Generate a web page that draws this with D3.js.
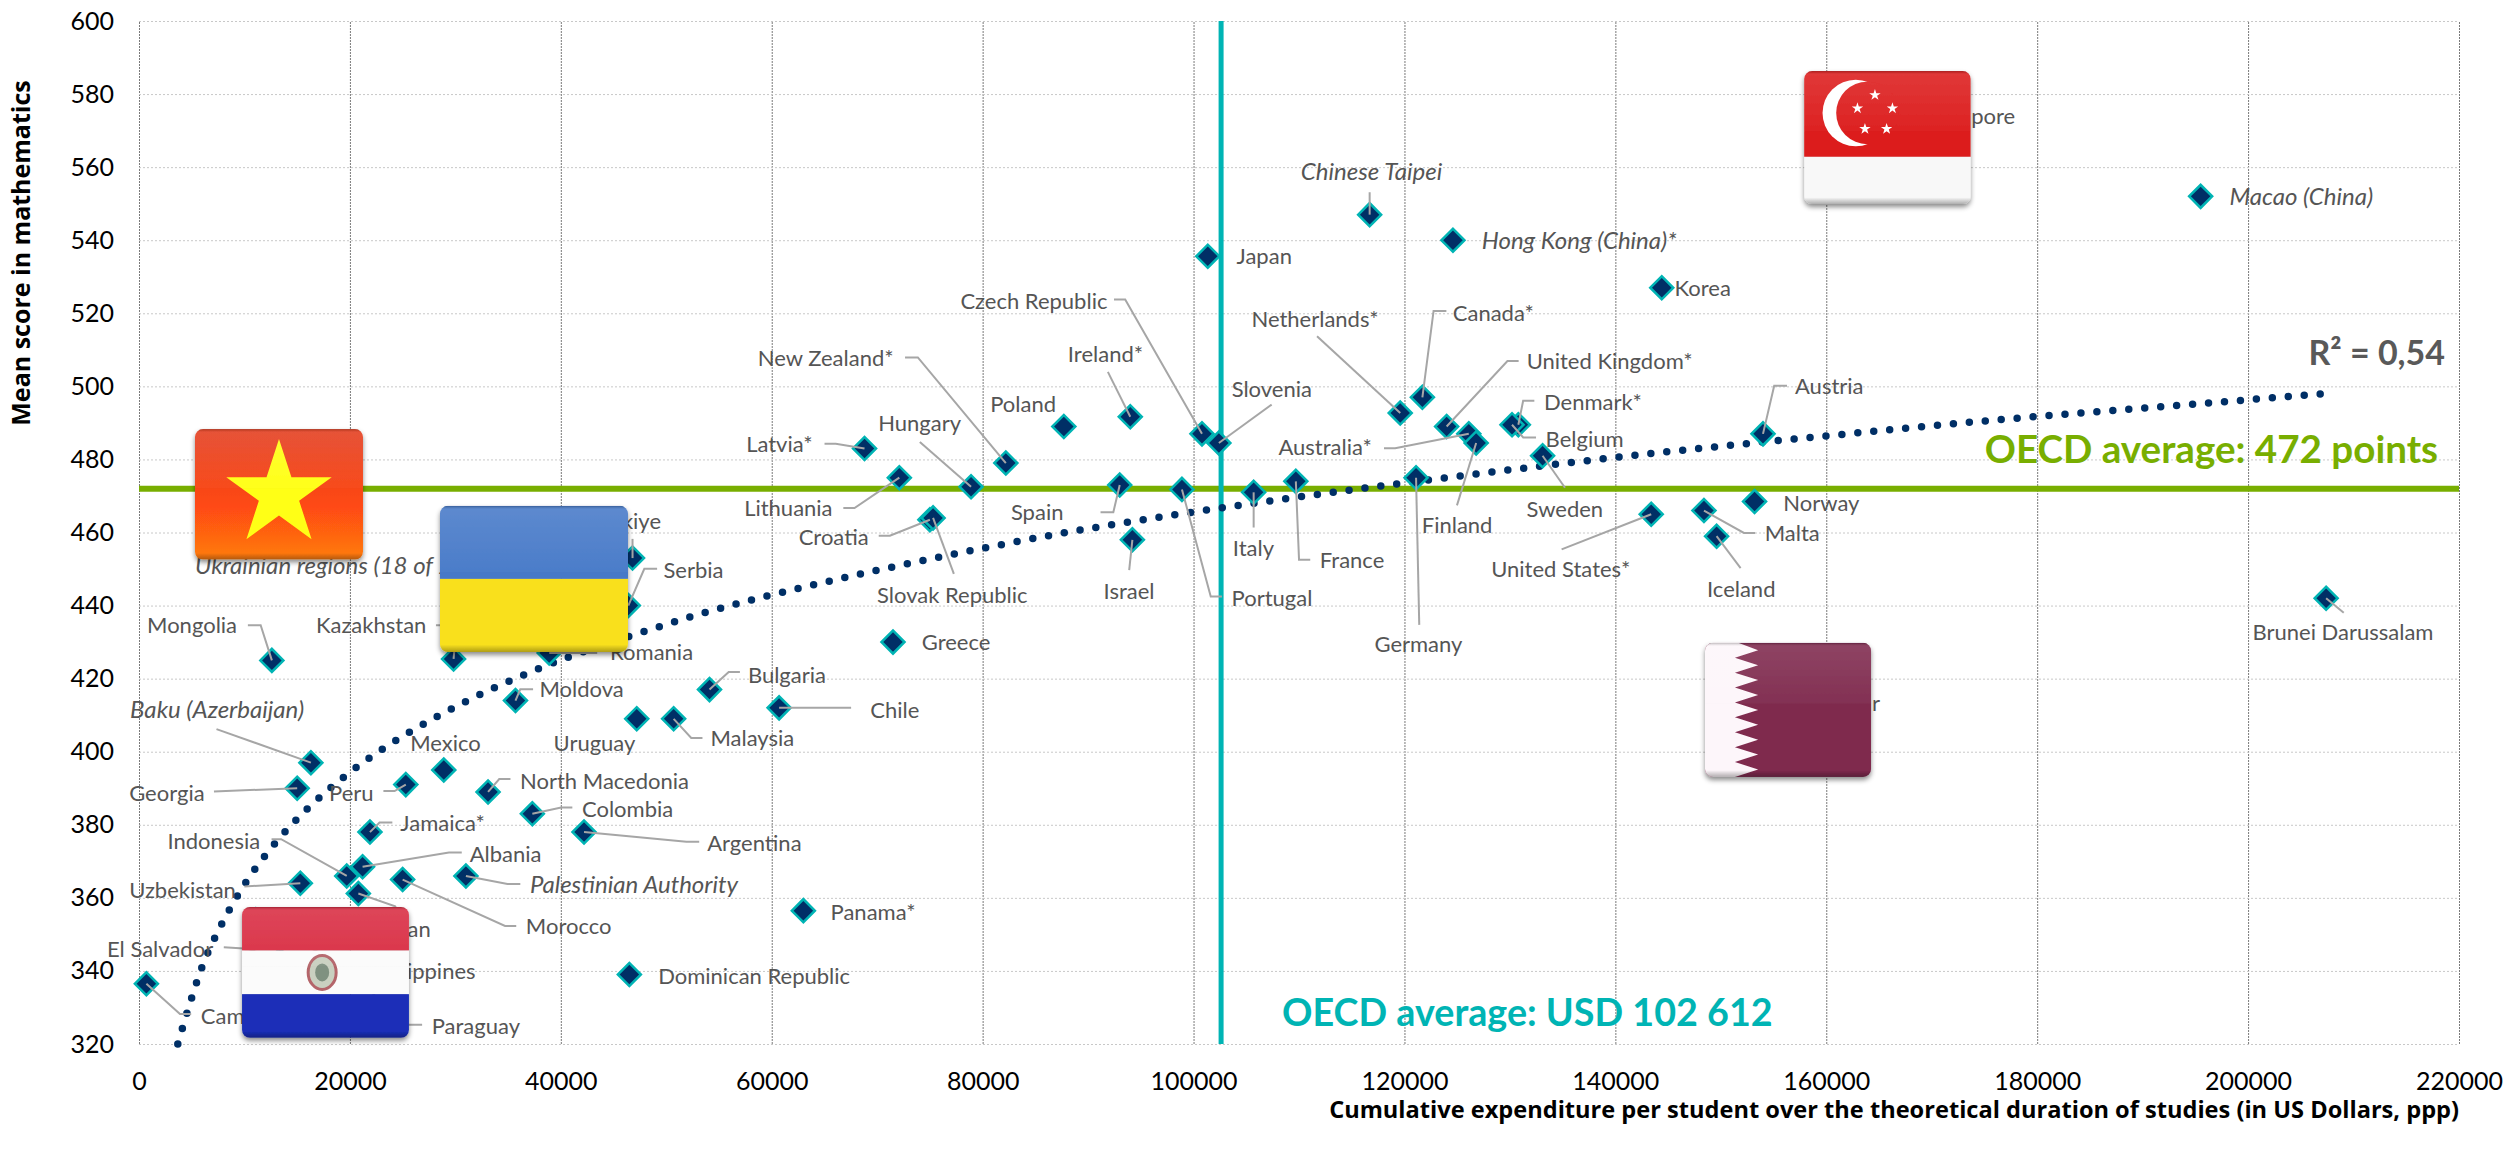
<!DOCTYPE html>
<html>
<head>
<meta charset="utf-8">
<script src="https://cdn.jsdelivr.net/npm/d3@7"></script>
<style>
  body { margin: 0; background: #fff; }
  text { font-family: Lato, sans-serif; }
</style>
</head>
<body>
<div id="chart"></div>
<script>
const countries = ["Macao (China)", "Singapore", "Chinese Taipei", "Hong Kong (China)*", "Japan", "Korea", "Canada*", "Netherlands*", "Ireland*", "Poland", "United Kingdom*", "Denmark*", "Belgium", "Australia*", "Finland", "Czech Republic", "Slovenia", "Latvia*", "New Zealand*", "Sweden", "Austria", "Lithuania", "Hungary", "Spain", "Portugal", "Italy", "France", "Germany", "Croatia", "Slovak Republic", "Israel", "United States*", "Malta", "Iceland", "Norway", "Brunei Darussalam", "Greece", "Qatar", "Viet Nam", "Ukrainian regions (18 of 27)", "Türkiye", "Serbia", "Kazakhstan", "Romania", "Mongolia", "Moldova", "Bulgaria", "Chile", "Uruguay", "Malaysia", "Baku (Azerbaijan)", "Georgia", "Mexico", "Peru", "North Macedonia", "Colombia", "Jamaica*", "Argentina", "Albania", "Indonesia", "Morocco", "Palestinian Authority", "Uzbekistan", "Jordan", "Panama*", "Philippines", "El Salvador", "Dominican Republic", "Paraguay", "Cambodia"];
const expenditure = [195500, 165800, 116700, 124600, 101350, 144400, 121700, 119600, 94000, 87700, 124000, 130800, 130200, 126100, 126800, 100800, 102400, 68800, 82200, 133100, 154000, 72100, 78900, 93000, 98900, 105700, 109700, 121100, 75000, 75300, 94200, 143400, 148400, 149600, 153200, 207400, 71500, 156700, 11830, 35350, 46800, 46400, 29830, 38900, 12600, 35700, 54100, 60700, 47200, 50700, 16300, 15000, 28900, 25300, 33100, 37300, 21900, 42200, 21200, 19700, 25000, 31000, 15300, 20800, 63000, 11080, 13350, 46500, 20930, 700];
const mathScore = [552, 574, 547, 540, 535.6, 527, 497, 492.7, 491.7, 489, 489, 489.5, 489.5, 487, 484.5, 487, 484.5, 483, 479, 481, 487, 475, 472.5, 473, 471.8, 471, 474, 475, 463.5, 464, 458, 465, 466, 459, 468.5, 442, 430, 413.3, 467.7, 439.2, 453, 440, 425.4, 427, 425, 414, 417, 412, 409, 409, 397, 390, 395, 391, 389, 383, 378, 378, 368.5, 366, 365, 366, 364, 361.2, 356.5, 354, 343, 339, 338, 336.5];
const italicNames = ["Macao (China)", "Chinese Taipei", "Hong Kong (China)*", "Ukrainian regions (18 of 27)", "Baku (Azerbaijan)", "Palestinian Authority"];

const xTicks = [0, 20000, 40000, 60000, 80000, 100000, 120000, 140000, 160000, 180000, 200000, 220000];
const yTicks = [320, 340, 360, 380, 400, 420, 440, 460, 480, 500, 520, 540, 560, 580, 600];

// trend line
const trendX = [3680, 4500, 5940, 7840, 10150, 12980, 16110, 19610, 23360, 28700, 32800, 37030, 41300, 47160, 53000, 59000, 63400, 75470, 87550, 99730, 111960, 122540, 134770, 143990, 160950, 177700, 193000, 207600];
const trendY = [320, 328, 340.8, 352.8, 364.3, 375.2, 384.8, 393.5, 401.2, 410.3, 416.3, 421.7, 426.5, 432.2, 437.5, 442.2, 445.3, 453, 459.8, 465.5, 470.5, 474.5, 478.8, 481.8, 486.7, 491.2, 494.7, 498.1];

const oecdScore = 472;
const oecdExpenditure = 102612;

const width = 2509, height = 1172;
const margin = { top: 21, right: 50, bottom: 128, left: 139 };
const plotW = width - margin.left - margin.right;
const plotH = height - margin.top - margin.bottom;

const xScale = d3.scaleLinear().domain([0, 220000]).range([margin.left, margin.left + plotW]);
const yScale = d3.scaleLinear().domain([320, 600]).range([margin.top + plotH, margin.top]);

const svg = d3.select("#chart").append("svg")
    .attr("width", width)
    .attr("height", height)
    .style("display", "block");

// gridlines come from the axes themselves
const xAxis = svg.append("g")
    .attr("transform", `translate(0, ${margin.top + plotH})`)
    .call(d3.axisBottom(xScale).tickValues(xTicks).tickFormat(d3.format("d")).tickSize(-plotH).tickPadding(28));
xAxis.select(".domain").remove();
xAxis.selectAll("line").attr("stroke", "#7a7a7a").attr("stroke-dasharray", "2 1");
xAxis.selectAll("text").attr("font-size", 25).attr("fill", "#000");

const yAxis = svg.append("g")
    .attr("transform", `translate(${margin.left}, 0)`)
    .call(d3.axisLeft(yScale).tickValues(yTicks).tickFormat(d3.format("d")).tickSize(-plotW).tickPadding(25));
yAxis.select(".domain").remove();
yAxis.selectAll("line").attr("stroke", "#c8c8c8").attr("stroke-dasharray", "2 2");
yAxis.selectAll("text").attr("font-size", 25).attr("fill", "#000");

svg.append("text")
    .attr("transform", `translate(30, ${margin.top + 232}) rotate(-90)`)
    .attr("text-anchor", "middle")
    .attr("font-size", 25)
    .attr("font-weight", 700)
    .style("font-family", "'Open Sans', sans-serif")
    .text("Mean score in mathematics");

svg.append("text")
    .attr("x", margin.left + plotW)
    .attr("y", 1118)
    .attr("text-anchor", "end")
    .attr("font-size", 23.6)
    .attr("font-weight", 700)
    .style("font-family", "'Open Sans', sans-serif")
    .text("Cumulative expenditure per student over the theoretical duration of studies (in US Dollars, ppp)");

// OECD reference lines
svg.append("line")
    .attr("x1", xScale(0)).attr("x2", xScale(220000))
    .attr("y1", yScale(oecdScore)).attr("y2", yScale(oecdScore))
    .attr("stroke", "#78ae00").attr("stroke-width", 6);

svg.append("line")
    .attr("x1", xScale(oecdExpenditure)).attr("x2", xScale(oecdExpenditure))
    .attr("y1", yScale(600)).attr("y2", yScale(320))
    .attr("stroke", "#00b4b4").attr("stroke-width", 5);

// dotted trend
const trendLine = d3.line().x(d => xScale(d[0])).y(d => yScale(d[1])).curve(d3.curveMonotoneX);
svg.append("path")
    .attr("d", trendLine(d3.zip(trendX, trendY)))
    .attr("fill", "none")
    .attr("stroke", "#002f66")
    .attr("stroke-width", 7.5)
    .attr("stroke-linecap", "round")
    .attr("stroke-dasharray", "0 16");

// label placement relative to the point: dx, dy, leader bends (in units of the 1568 wide view)
const unit = 1.6;
const labelLayout = {
    "Macao (China)": [18, 0], "Singapore": [20, 0], "Chinese Taipei": [-43, -27, [[0, -14]]],
    "Hong Kong (China)*": [18, 0], "Japan": [18, 0], "Korea": [8, 0],
    "Canada*": [19, -53, [[7, -54], [15, -54]]], "Netherlands*": [-93, -59, [[-52, -48]]],
    "Ireland*": [-39, -39, [[-14, -28]]], "Poland": [-46, -14],
    "United Kingdom*": [50, -41, [[38, -41], [45, -41]]], "Denmark*": [16, -14, [[3, -15], [10, -15]]],
    "Belgium": [21, 9, [[7, 8], [15, 8]]], "Australia*": [-119, 8, [[-46, 9], [-53, 9]]],
    "Finland": [-34, 51, [[-12, 39]]], "Czech Republic": [-151, -83, [[-48, -84], [-55, -84]]],
    "Slovenia": [8, -34, [[33, -24]]], "Latvia*": [-74, -3, [[-18, -3], [-25, -3]]],
    "New Zealand*": [-155, -66, [[-55, -66], [-63, -66]]], "Sweden": [-10, 33, [[14, 20]]],
    "Austria": [20, -30, [[7, -30], [15, -30]]], "Lithuania": [-97, 19, [[-28, 19], [-35, 19]]],
    "Hungary": [-58, -40, [[-32, -28]]], "Spain": [-68, 17, [[-4, 17], [-12, 17]]],
    "Portugal": [31, 68, [[18, 67], [25, 67]]], "Italy": [-13, 35, [[0, 22]]],
    "France": [15, 49, [[2, 49], [9, 49]]], "Germany": [-26, 104, [[2, 92]]],
    "Croatia": [-82, 11, [[-25, 10], [-32, 10]]], "Slovak Republic": [-35, 48, [[13, 35]]],
    "Israel": [-18, 32, [[-2, 19]]], "United States*": [-100, 34, [[-56, 22]]],
    "Malta": [38, 14, [[25, 14], [32, 14]]], "Iceland": [-6, 33, [[15, 20]]], "Norway": [18, 1],
    "Brunei Darussalam": [-46, 21, [[11, 9]]], "Greece": [18, 0], "Qatar": [21, 0], "Viet Nam": [-20, 0],
    "Ukrainian regions (18 of 27)": [-198, -27], "Türkiye": [-26, -23, [[0, -12]]],
    "Serbia": [22, -22, [[10, -23], [18, -23]]], "Kazakhstan": [-86, -21, [[2, -21], [-11, -21]]],
    "Romania": [38, -1, [[30, 0]]], "Mongolia": [-78, -22, [[-7, -22], [-15, -22]]],
    "Moldova": [15, -7, [[3, -7], [11, -7]]], "Bulgaria": [24, -9, [[12, -11], [19, -11]]],
    "Chile": [57, 1, [[45, 0]]], "Uruguay": [-52, 15], "Malaysia": [23, 12, [[11, 12], [18, 12]]],
    "Baku (Azerbaijan)": [-113, -33, [[-59, -21]]], "Georgia": [-105, 3, [[-52, 2]]],
    "Mexico": [-21, -17], "Peru": [-48, 5, [[-7, 4], [-14, 4]]],
    "North Macedonia": [20, -7, [[7, -8], [14, -8]]], "Colombia": [31, -3, [[18, -4], [25, -4]]],
    "Jamaica*": [19, -6, [[6, -6], [14, -6]]], "Argentina": [77, 7, [[64, 6], [72, 6]]],
    "Albania": [67, -8, [[54, -9], [62, -9]]], "Indonesia": [-112, -22, [[-41, -23], [-47, -23]]],
    "Morocco": [77, 29, [[64, 29], [71, 29]]], "Palestinian Authority": [40, 5, [[26, 5], [34, 5]]],
    "Uzbekistan": [-107, 4, [[-35, 2]]], "Jordan": [5, 22, [[23, 8], [28, 18]]],
    "Panama*": [17, 1], "Philippines": [72, 32, [[60, 31]]], "El Salvador": [-108, -7, [[-20, -7], [-35, -8]]],
    "Dominican Republic": [18, 1], "Paraguay": [45, 30, [[25, 29], [39, 29]]], "Cambodia": [34, 20, [[21, 19], [28, 19]]]
};

const points = countries.map((name, i) => ({ name, x: xScale(expenditure[i]), y: yScale(mathScore[i]) }));

svg.append("g").selectAll("path")
    .data(points)
    .enter().append("path")
    .attr("d", d3.symbol(d3.symbolSquare, 265))
    .attr("transform", d => `translate(${d.x}, ${d.y}) rotate(45)`)
    .attr("fill", "#002f66")
    .attr("stroke", "#00b4b4")
    .attr("stroke-width", 2.5);

// leader lines sit on top of the markers
svg.append("g").selectAll("polyline")
    .data(points.filter(d => labelLayout[d.name][2]))
    .enter().append("polyline")
    .attr("points", d => [[0, 0]].concat(labelLayout[d.name][2])
        .map(p => [d.x + p[0] * unit, d.y + p[1] * unit].join(",")).join(" "))
    .attr("fill", "none")
    .attr("stroke", "#a6a6a6")
    .attr("stroke-width", 2);

svg.append("g").selectAll("text")
    .data(points)
    .enter().append("text")
    .attr("x", d => d.x + labelLayout[d.name][0] * unit)
    .attr("y", d => d.y + labelLayout[d.name][1] * unit + 2.5)
    .attr("dominant-baseline", "middle")
    .attr("font-size", d => italicNames.includes(d.name) ? 24 : 22)
    .attr("font-style", d => italicNames.includes(d.name) ? "italic" : "normal")
    .attr("fill", "#555")
    .text(d => d.name);

svg.append("text")
    .attr("x", 2445).attr("y", yScale(498) - 29)
    .attr("text-anchor", "end")
    .attr("font-size", 34)
    .attr("font-weight", 700)
    .attr("fill", "#595959")
    .text("R² = 0,54");

svg.append("text")
    .attr("x", 2438).attr("y", yScale(oecdScore) - 26)
    .attr("text-anchor", "end")
    .attr("font-size", 38.6)
    .attr("font-weight", 700)
    .attr("fill", "#78ae00")
    .text("OECD average: 472 points");

svg.append("text")
    .attr("x", 1282).attr("y", yScale(320) - 18)
    .attr("font-size", 37.7)
    .attr("font-weight", 700)
    .attr("fill", "#00b4b4")
    .text("OECD average: USD 102 612");

// glossy flag icons, placed on the data scales
const flagNames = ["Viet Nam", "Ukraine", "Paraguay", "Qatar", "Singapore"];
const flagX0 = [5310, 28540, 9770, 148500, 157900];
const flagX1 = [21240, 46370, 25600, 164250, 173700];
const flagYTop = [488.3, 467.3, 357.5, 429.8, 586.3];
const flagYBottom = [452.6, 427.3, 321.7, 393.1, 549.9];

const defs = svg.append("defs");
const shadow = defs.append("filter").attr("id", "flag-shadow").attr("x", "-10%").attr("y", "-10%").attr("width", "120%").attr("height", "125%");
shadow.append("feDropShadow").attr("dx", 0).attr("dy", 3).attr("stdDeviation", 2.5).attr("flood-color", "#000").attr("flood-opacity", 0.45);

function addGradient(id, stops) {
    const g = defs.append("linearGradient").attr("id", id).attr("x1", 0).attr("x2", 0).attr("y1", 0).attr("y2", 1);
    stops.forEach(s => g.append("stop").attr("offset", s[0]).attr("stop-color", s[1]).attr("stop-opacity", s[2] === undefined ? 1 : s[2]));
}
addGradient("vn-red", [[0, "#e23a1c"], [0.6, "#ff4a12"], [1, "#ff7d10"]]);
addGradient("edge-shade", [[0, "#000", 0.25], [0.025, "#fff", 0.12], [0.45, "#fff", 0.03], [0.46, "#000", 0.0], [0.95, "#000", 0], [1, "#000", 0.3]]);

function starPoints(cx, cy, r) {
    const pts = [];
    for (let i = 0; i < 10; i++) {
        const a = -Math.PI / 2 + i * Math.PI / 5;
        const rad = i % 2 ? r * 0.382 : r;
        pts.push([cx + rad * Math.cos(a), cy + rad * Math.sin(a)].join(","));
    }
    return pts.join(" ");
}

const flagPainters = {
    "Viet Nam": (g, w, h) => {
        g.append("rect").attr("width", w).attr("height", h).attr("fill", "url(#vn-red)");
        g.append("polygon").attr("points", starPoints(w * 0.5, h * 0.5, w * 0.33)).attr("fill", "#ffff14");
    },
    "Ukraine": (g, w, h) => {
        g.append("rect").attr("width", w).attr("height", h / 2).attr("fill", "#4679c8");
        g.append("rect").attr("y", h / 2).attr("width", w).attr("height", h / 2).attr("fill", "#f9e01e");
    },
    "Paraguay": (g, w, h) => {
        g.append("rect").attr("width", w).attr("height", h / 3).attr("fill", "#d92c42");
        g.append("rect").attr("y", h / 3).attr("width", w).attr("height", h / 3).attr("fill", "#fbfbfb");
        g.append("rect").attr("y", h * 2 / 3).attr("width", w).attr("height", h / 3).attr("fill", "#1a2fb8");
        g.append("ellipse").attr("cx", w * 0.48).attr("cy", h * 0.5).attr("rx", 14).attr("ry", 17)
            .attr("fill", "#c9d0c0").attr("stroke", "#b4656a").attr("stroke-width", 3);
        g.append("ellipse").attr("cx", w * 0.48).attr("cy", h * 0.5).attr("rx", 7).attr("ry", 9)
            .attr("fill", "#7f9180");
    },
    "Qatar": (g, w, h) => {
        g.append("rect").attr("width", w).attr("height", h).attr("fill", "#7f2a4e");
        const teeth = 9;
        const zig = [[0, 0], [w * 0.2, 0]];
        for (let i = 0; i < teeth; i++) {
            zig.push([w * 0.32, (i + 0.5) * h / teeth]);
            zig.push([w * 0.18, (i + 1) * h / teeth]);
        }
        zig.push([0, h]);
        g.append("polygon").attr("points", zig.map(p => p.join(",")).join(" ")).attr("fill", "#fdf6fa");
    },
    "Singapore": (g, w, h) => {
        g.append("rect").attr("width", w).attr("height", h * 0.645).attr("fill", "#dc1c1c");
        g.append("rect").attr("y", h * 0.645).attr("width", w).attr("height", h * 0.355).attr("fill", "#f8f8f8");
        g.append("circle").attr("cx", w * 0.31).attr("cy", h * 0.315).attr("r", h * 0.25).attr("fill", "#fff");
        g.append("circle").attr("cx", w * 0.38).attr("cy", h * 0.315).attr("r", h * 0.235).attr("fill", "#dc1c1c");
        [[0.425, 0.18], [0.32, 0.28], [0.53, 0.28], [0.365, 0.435], [0.495, 0.435]].forEach(s => {
            g.append("polygon").attr("points", starPoints(w * s[0], h * s[1], 6)).attr("fill", "#fff");
        });
    }
};

flagNames.forEach((name, i) => {
    const x = xScale(flagX0[i]), y = yScale(flagYTop[i]);
    const w = xScale(flagX1[i]) - x, h = yScale(flagYBottom[i]) - y;
    const id = "clip-" + i;
    defs.append("clipPath").attr("id", id).append("rect").attr("width", w).attr("height", h).attr("rx", 8);
    const outer = svg.append("g").attr("transform", `translate(${x}, ${y})`).attr("filter", "url(#flag-shadow)");
    const g = outer.append("g").attr("clip-path", `url(#${id})`);
    flagPainters[name](g, w, h);
    g.append("rect").attr("width", w).attr("height", h).attr("fill", "url(#edge-shade)");
});
</script>
</body>
</html>
